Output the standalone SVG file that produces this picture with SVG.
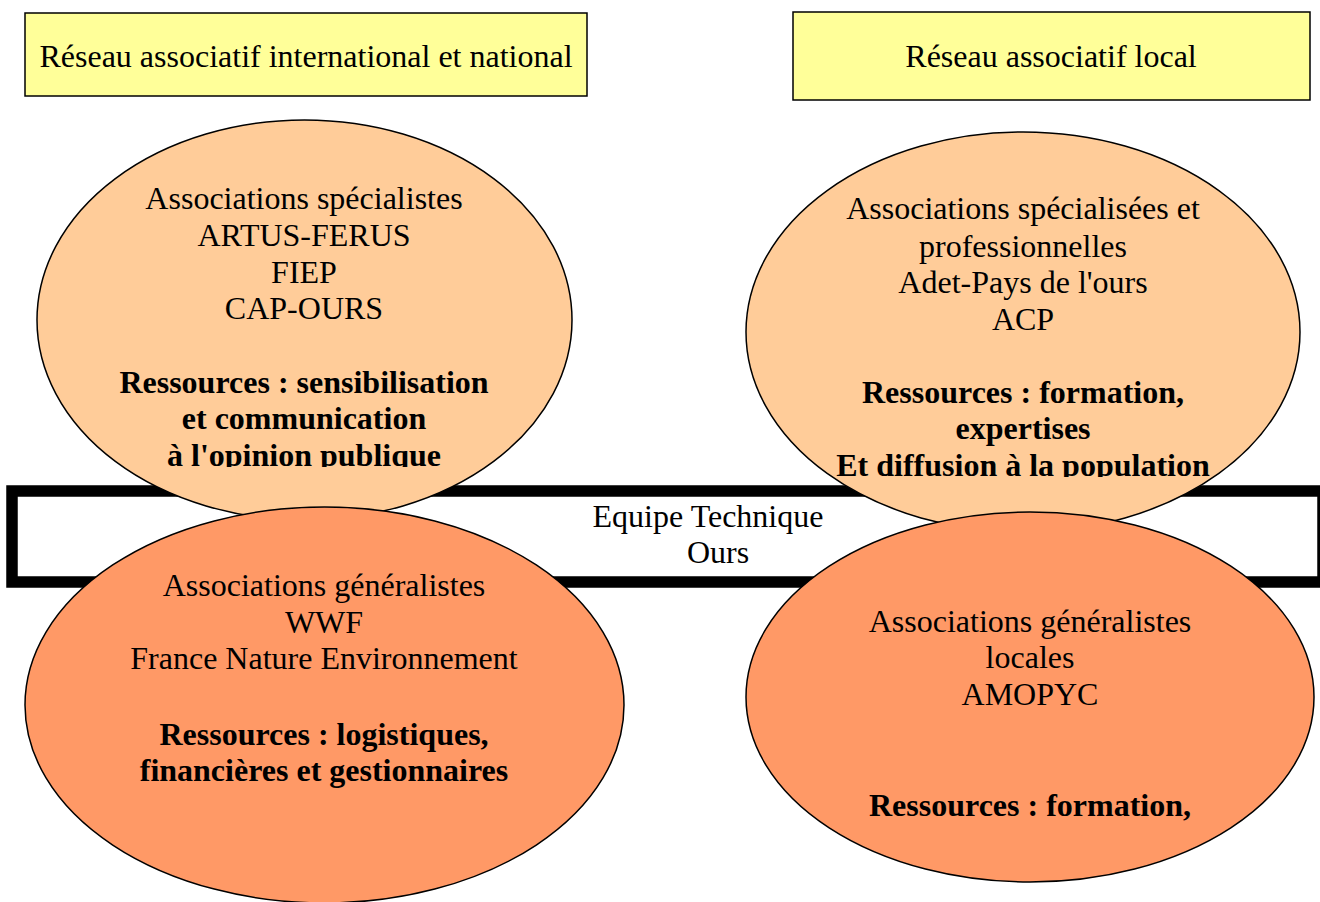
<svg xmlns="http://www.w3.org/2000/svg" width="1320" height="902" viewBox="0 0 1320 902">
<style>
text{font-family:"Liberation Serif","Times New Roman",serif;font-size:32px;fill:#000;text-anchor:middle}
.b{font-weight:bold}
.yb{fill:#FFFF99;stroke:#000;stroke-width:1.5}
.up{fill:#FFCC99;stroke:#000;stroke-width:1.5}
.lo{fill:#FF9966;stroke:#000;stroke-width:1.5}
</style>
<defs>
<clipPath id="clipUL"><rect x="0" y="150" width="660" height="317"/></clipPath>
<clipPath id="clipUR"><rect x="660" y="150" width="660" height="327"/></clipPath>
</defs>
<g id="connectors"></g>
<g id="hdr-intl">
<rect class="yb" x="25" y="13" width="562" height="83"/>
<text x="306" y="67">Réseau associatif international et national</text>
</g>
<g id="hdr-local">
<rect class="yb" x="793" y="12" width="517" height="88"/>
<text x="1051" y="67">Réseau associatif local</text>
</g>
<g id="equipe">
<rect x="12" y="491" width="1311" height="91" fill="#fff" stroke="#000" stroke-width="11.5"/>
<text x="708" y="527">Equipe Technique</text>
<text x="718" y="563">Ours</text>
</g>
<g id="assoc-specialistes">
<ellipse class="up" cx="304.5" cy="320" rx="267.5" ry="200"/>
<g clip-path="url(#clipUL)">
<text x="304" y="209">Associations spécialistes</text>
<text x="304" y="246">ARTUS-FERUS</text>
<text x="304" y="283">FIEP</text>
<text x="304" y="319">CAP-OURS</text>
<text class="b" x="304" y="393">Ressources : sensibilisation</text>
<text class="b" x="304" y="429">et communication</text>
<text class="b" x="304" y="466">à l'opinion publique</text>
</g>
</g>
<g id="assoc-specialisees">
<ellipse class="up" cx="1023" cy="332" rx="277" ry="200"/>
<g clip-path="url(#clipUR)">
<text x="1023" y="219">Associations spécialisées et</text>
<text x="1023" y="257">professionnelles</text>
<text x="1023" y="293">Adet-Pays de l'ours</text>
<text x="1023" y="330">ACP</text>
<text class="b" x="1023" y="403">Ressources : formation,</text>
<text class="b" x="1023" y="439">expertises</text>
<text class="b" x="1023" y="476">Et diffusion à la population</text>
</g>
</g>
<g id="assoc-generalistes">
<ellipse class="lo" cx="324.5" cy="705" rx="299.5" ry="198"/>
<text x="324" y="596">Associations généralistes</text>
<text x="324" y="633">WWF</text>
<text x="324" y="669">France Nature Environnement</text>
<text class="b" x="324" y="745">Ressources : logistiques,</text>
<text class="b" x="324" y="781">financières et gestionnaires</text>
</g>
<g id="assoc-generalistes-locales">
<ellipse class="lo" cx="1030" cy="697" rx="284" ry="185"/>
<text x="1030" y="632">Associations généralistes</text>
<text x="1030" y="668">locales</text>
<text x="1030" y="705">AMOPYC</text>
<text class="b" x="1030" y="816">Ressources : formation,</text>
</g>
</svg>
